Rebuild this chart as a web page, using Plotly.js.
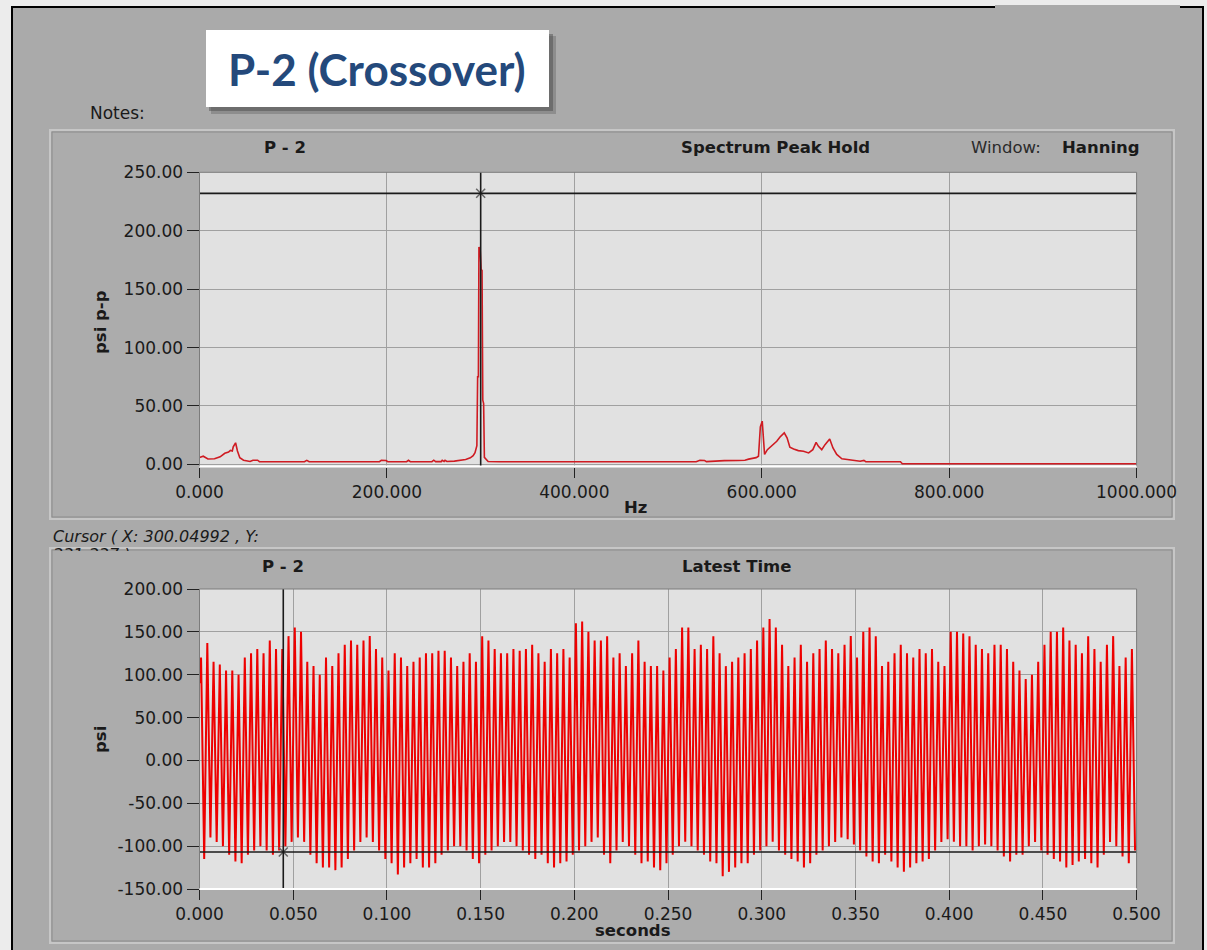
<!DOCTYPE html>
<html>
<head>
<meta charset="utf-8">
<script src="https://cdn.plot.ly/plotly-3.0.1.min.js"></script>
<style>
  html, body { margin:0; padding:0; background:#ececec; }
  #chart { width:1207px; height:950px; }
</style>
</head>
<body>
<div id="chart"></div>
<script>
// ---------------- DATA ----------------
// Spectrum Peak Hold (Hz vs psi p-p)
const specHz = [0, 4, 9, 16, 22, 27, 31, 33, 35, 36, 38.5, 40.5, 43, 47, 54, 57, 62, 64,
  112, 114.5, 117, 192, 194, 199, 201, 221, 223, 225, 248, 250, 252, 258, 259, 261, 262, 264,
  272, 278, 284, 289, 292, 294, 296, 296.8, 297.6, 298.2, 299.5, 300.5, 301.5, 302.3, 303.2, 304, 306, 308, 320,
  530, 534, 539, 541, 548, 560, 575, 582, 586, 590, 594, 596.5, 598.5, 600.5, 601.5, 603, 606, 610.5,
  616, 619.5, 624, 627, 630, 634, 639, 644.5, 650, 654.5, 658, 660.5, 664, 667.5, 672.5, 676, 680,
  685.5, 691, 698, 705, 709, 711, 748, 750, 1000];
const specAmp = [6.0, 7.0, 4.6, 4.8, 6.5, 9.5, 10.5, 12.0, 11.5, 15.0, 18.5, 11.5, 5.7, 3.6, 2.5, 3.6, 3.6, 2.4,
  2.3, 3.5, 2.3, 2.3, 3.4, 3.3, 2.3, 2.3, 3.5, 2.3, 2.3, 3.6, 2.4, 2.4, 3.5, 2.5, 3.5, 2.5,
  2.8, 3.6, 4.2, 5.6, 7.5, 10, 16, 75, 75, 186, 184, 167, 166, 55, 52, 6, 3.7, 2.5, 2.3,
  2.3, 3.5, 3.3, 2.4, 2.9, 3.2, 3.3, 3.6, 4.5, 5.2, 5.8, 7, 32, 37, 27, 8.5, 12.6, 15.5,
  19.8, 23.5, 27, 22.7, 14.7, 13.2, 11.8, 11.2, 9.8, 12.6, 18.9, 15.5, 12.6, 16.9, 21.8, 14.1, 8.5,
  4.8, 4.2, 3.5, 2.7, 3.4, 2.4, 2.3, 0.5, 0.5];

// Latest Time (seconds vs psi): per-cycle positive peaks and negative troughs (300 Hz, 150 cycles)
const F0_HZ = 300;
const startValue = 90;
const cyclePeaks = [
  120,137,115,112,105,105,100,120,125,130,
  125,140,130,130,145,155,150,115,110,100,
  120,110,125,135,140,135,140,145,130,120,
  105,125,120,110,115,120,125,125,128,128,
  120,110,115,125,115,145,140,130,125,125,
  130,128,130,135,125,115,130,125,130,120,
  160,162,150,140,
  140,145,120,125,110,125,140,115,110,110,
  105,120,130,155,155,130,135,130,145,125,
  110,115,120,125,130,140,155,165,155,135,
  110,120,135,115,125,130,140,130,125,135,
  145,120,150,155,145,110,115,125,135,125,
  120,130,125,130,115,110,150,150,148,145,
  135,130,125,135,135,130,115,105,95,100,
  115,135,150,150,155,140,135,125,145,130,
  115,135,145,110,120,130];
const cycleTroughs = [
  -115,-90,-95,-100,-110,-118,-120,-110,-105,-100,
  -105,-110,-105,-100,-95,-90,-95,-110,-120,-125,
  -125,-128,-125,-115,-105,-95,-90,-95,-105,-115,
  -120,-133,-125,-120,-115,-125,-125,-120,-110,-105,
  -100,-100,-105,-115,-120,-110,-105,-100,-95,-95,
  -100,-105,-110,-115,-110,-120,-125,-120,-118,-110,
  -105,-100,-95,-90,
  -110,-120,-105,-95,-100,-110,-120,-118,-125,-128,
  -120,-110,-100,-95,-100,-105,-110,-118,-120,-135,
  -130,-125,-120,-120,-110,-105,-100,-95,-105,-110,
  -115,-118,-125,-120,-110,-105,-100,-95,-90,-92,
  -98,-105,-112,-118,-120,-110,-118,-125,-130,-125,
  -120,-118,-115,-105,-95,-92,-95,-100,-100,-105,
  -100,-98,-100,-105,-112,-118,-110,-110,-100,-95,
  -105,-110,-115,-118,-125,-122,-118,-115,-120,-125,
  -110,-95,-100,-112,-120,-105];

// Tick labels
const topYTickVals = [0, 50, 100, 150, 200, 250];
const topYTickText = ['0.00', '50.00', '100.00', '150.00', '200.00', '250.00'];
const botYTickVals = [-150, -100, -50, 0, 50, 100, 150, 200];
const botYTickText = ['-150.00', '-100.00', '-50.00', '0.00', '50.00', '100.00', '150.00', '200.00'];

// Cursors
const cursorTop = {x: 300.04992, y: 232};
const cursorBottom = {x: 0.0447, y: -106.8};

// Texts
const pageTitle = 'P-2 (Crossover)';
const topChannel = 'P - 2', topTitle = 'Spectrum Peak Hold', windowLabel = 'Window:', windowValue = 'Hanning';
const botChannel = 'P - 2', botTitle = 'Latest Time';
const topYTitle = 'psi p-p', topXTitle = 'Hz', botYTitle = 'psi', botXTitle = 'seconds';
const cursorText = 'Cursor ( X: 300.04992 , Y:';
const cursorText2 = '231.237 )';

// ---------------- BUILD ----------------
const tSig = [0], vSig = [startValue];
for (let k = 0; k < cyclePeaks.length; k++) {
  tSig.push((k + 0.25) / F0_HZ); vSig.push(cyclePeaks[k]);
  tSig.push((k + 0.75) / F0_HZ); vSig.push(cycleTroughs[k]);
}

const W = 1207, H = 950;
const fx = p => p / W;
const fy = p => 1 - p / H;

const UI = 'DejaVu Sans';
const TXT = '#1a1a1a';

function prect(x0, y0, x1, y1, o) {
  return Object.assign({type: 'rect', xref: 'paper', yref: 'paper', x0: fx(x0), x1: fx(x1), y0: fy(y1), y1: fy(y0), layer: 'below'}, o);
}
function pann(text, x, y, o) {
  return Object.assign({text: text, xref: 'paper', yref: 'paper', x: fx(x), y: fy(y),
    xanchor: 'center', yanchor: 'middle', showarrow: false,
    font: {family: UI, size: 16.5, color: TXT}}, o || {});
}

const PX0 = 199.5, PX1 = 1136.6;
const topY0 = 172.3, topY1 = 466.5;
const botY0 = 589, botY1 = 889;

const axCommon = {
  ticks: 'outside', tickcolor: '#222', tickwidth: 1, showgrid: true, gridcolor: '#a0a0a0', gridwidth: 1,
  zeroline: false, showline: false, fixedrange: true,
  tickfont: {family: UI, size: 17, color: TXT}
};

const traces = [
  {x: specHz, y: specAmp, type: 'scatter', mode: 'lines', xaxis: 'x', yaxis: 'y',
   line: {color: '#cf1b22', width: 1.6}, hoverinfo: 'skip'},
  {x: [cursorTop.x], y: [cursorTop.y], type: 'scatter', mode: 'markers', xaxis: 'x', yaxis: 'y',
   marker: {symbol: 'x-thin-open', size: 9, color: '#666', line: {color: '#666', width: 1.5}}, hoverinfo: 'skip'},
  {x: tSig, y: vSig, type: 'scatter', mode: 'lines', xaxis: 'x2', yaxis: 'y2',
   line: {color: '#ee0000', width: 2}, hoverinfo: 'skip'},
  {x: [cursorBottom.x], y: [cursorBottom.y], type: 'scatter', mode: 'markers', xaxis: 'x2', yaxis: 'y2',
   marker: {symbol: 'x-thin-open', size: 9, color: '#666', line: {color: '#666', width: 1.5}}, hoverinfo: 'skip'}
];

function plotArea(xr, yr) {
  const base = {xref: xr + ' domain', yref: yr + ' domain'};
  return [
    Object.assign({type: 'rect', x0: 0, x1: 1, y0: 0, y1: 1, layer: 'below', fillcolor: '#e1e1e1', line: {width: 0}}, base),
    Object.assign({type: 'line', x0: 0, x1: 0, y0: 0, y1: 1, layer: 'above', line: {color: '#7c7c7c', width: 1}}, base),
    Object.assign({type: 'line', x0: 0, x1: 1, y0: 1, y1: 1, layer: 'above', line: {color: '#7c7c7c', width: 1}}, base),
    Object.assign({type: 'line', x0: 1, x1: 1, y0: 0, y1: 1, layer: 'above', line: {color: '#7c7c7c', width: 1}}, base),
    Object.assign({type: 'line', x0: 0, x1: 1, y0: 0, y1: 0, layer: 'above', line: {color: '#ffffff', width: 2}}, base)
  ];
}

const shapes = [
  // main frame
  prect(12, 7, 1203, 952, {fillcolor: '#aaaaaa', line: {color: '#000', width: 2}}),
  prect(995, 5, 1180, 9, {fillcolor: '#aaaaaa', line: {width: 0}}),
  // panels
  prect(50, 130, 1174, 519, {fillcolor: '#acacac', line: {color: '#c6c6c6', width: 2}}),
  prect(52, 132, 1172, 517, {fillcolor: 'rgba(0,0,0,0)', line: {color: '#8c8c8c', width: 1}}),
  prect(50, 548, 1174, 943, {fillcolor: '#acacac', line: {color: '#c6c6c6', width: 2}}),
  prect(52, 550, 1172, 941, {fillcolor: 'rgba(0,0,0,0)', line: {color: '#8c8c8c', width: 1}}),
  // title box with shadow
  prect(211, 36, 556, 114, {fillcolor: 'rgba(90,90,90,0.35)', line: {width: 0}}),
  prect(209, 34, 553, 111, {fillcolor: 'rgba(70,70,70,0.45)', line: {width: 0}}),
  prect(206, 30, 549, 107, {fillcolor: '#ffffff', line: {width: 0}}),
  // cursors
  {type: 'line', xref: 'x', yref: 'y domain', x0: cursorTop.x, x1: cursorTop.x, y0: 0, y1: 1, layer: 'above', line: {color: '#1a1a1a', width: 1.6}},
  {type: 'line', xref: 'x domain', yref: 'y', x0: 0, x1: 1, y0: cursorTop.y, y1: cursorTop.y, layer: 'above', line: {color: '#1a1a1a', width: 1.6}},
  {type: 'line', xref: 'x2', yref: 'y2 domain', x0: cursorBottom.x, x1: cursorBottom.x, y0: 0, y1: 1, layer: 'above', line: {color: '#1a1a1a', width: 1.6}},
  {type: 'line', xref: 'x2 domain', yref: 'y2', x0: 0, x1: 1, y0: cursorBottom.y, y1: cursorBottom.y, layer: 'above', line: {color: '#1a1a1a', width: 1.6}}
].concat(plotArea('x', 'y'), plotArea('x2', 'y2'));

const annotations = [
  pann(pageTitle, 377, 69, {font: {family: 'Lato', size: 44, color: '#24497b', weight: 700}}),
  pann('Notes:', 88, 113, {xanchor: 'left', font: {family: UI, size: 17, color: TXT}}),
  pann('<b>' + topChannel + '</b>', 285, 147),
  pann('<b>' + topTitle + '</b>', 775, 147),
  pann(windowLabel, 969, 147, {xanchor: 'left', font: {family: UI, size: 16.5, color: '#2a2a2a'}}),
  pann('<b>' + windowValue + '</b>', 1060, 147, {xanchor: 'left'}),
  pann('<b>' + topYTitle + '</b>', 100, 322, {textangle: -90}),
  pann('<b>' + topXTitle + '</b>', 635, 507),
  pann('<i>' + cursorText + '</i>', 51, 536, {xanchor: 'left', font: {family: UI, size: 16, color: TXT}}),
  pann('<i>' + cursorText2 + '</i>', 51, 543, {xanchor: 'left', yanchor: 'top', valign: 'top', height: 6, font: {family: UI, size: 16, color: TXT}}),
  pann('<b>' + botChannel + '</b>', 283, 566),
  pann('<b>' + botTitle + '</b>', 736, 566),
  pann('<b>' + botYTitle + '</b>', 100, 740, {textangle: -90}),
  pann('<b>' + botXTitle + '</b>', 633, 930)
];

const layout = {
  width: W, height: H, margin: {l: 0, r: 0, t: 0, b: 0, pad: 0},
  paper_bgcolor: '#ececec', plot_bgcolor: '#e1e1e1', showlegend: false,
  font: {family: UI, size: 17, color: TXT},
  xaxis: Object.assign({}, axCommon, {domain: [fx(PX0), fx(PX1)], anchor: 'y', range: [0, 1000], tick0: 0, dtick: 200, tickformat: '.3f', ticklen: 10}),
  yaxis: Object.assign({}, axCommon, {domain: [fy(topY1), fy(topY0)], anchor: 'x', range: [-1.8, 250], tickmode: 'array', tickvals: topYTickVals, ticktext: topYTickText, ticklen: 12}),
  xaxis2: Object.assign({}, axCommon, {domain: [fx(PX0), fx(PX1)], anchor: 'y2', range: [0, 0.5], tick0: 0, dtick: 0.05, tickformat: '.3f', ticklen: 10}),
  yaxis2: Object.assign({}, axCommon, {domain: [fy(botY1), fy(botY0)], anchor: 'x2', range: [-150, 200], tickmode: 'array', tickvals: botYTickVals, ticktext: botYTickText, ticklen: 12}),
  shapes: shapes,
  annotations: annotations
};

Plotly.newPlot('chart', traces, layout, {displayModeBar: false, staticPlot: true});
</script>
</body>
</html>
